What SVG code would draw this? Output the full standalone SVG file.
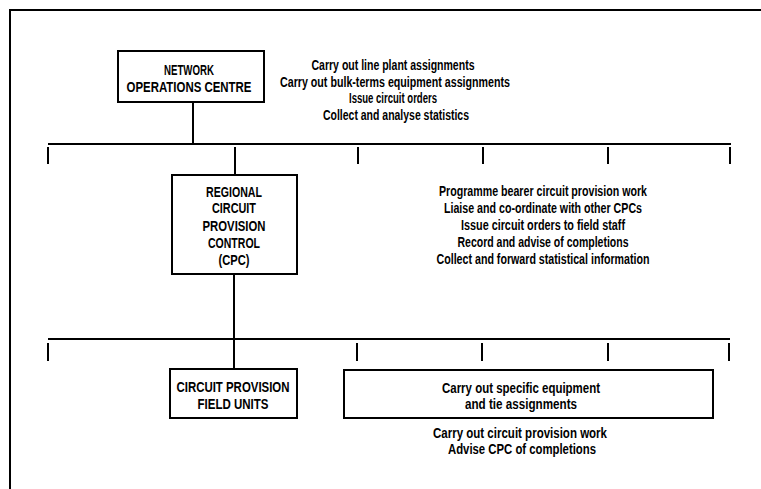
<svg xmlns="http://www.w3.org/2000/svg" width="761" height="489" viewBox="0 0 761 489">
  <style>
    .ln { stroke: #000; stroke-width: 2; fill: none; }
    .box { stroke: #000; stroke-width: 2; fill: #fff; }
    .t { font-family: "Liberation Sans", Arial, sans-serif; font-weight: bold; fill: #000; text-anchor: middle; }
    .cap { font-size: 15px; }
    .desc { font-size: 14px; }
    .low { font-size: 15px; }
  </style>
  <rect width="761" height="489" fill="#fff"/>

  <!-- page frame -->
  <g id="frame">
    <path class="ln" d="M10 10 H761 M10 9 V489"/>
  </g>

  <!-- connectors: feeder lines, bus bars and ticks -->
  <g id="connectors">
    <path class="ln" d="M193 102 V144"/>
    <path class="ln" d="M48 144 H731"/>
    <path class="ln" d="M48 147 V164 M235 147 V175 M358 147 V164 M483 147 V164 M608 147 V164 M730 147 V164"/>
    <path class="ln" d="M234 274 V369"/>
    <path class="ln" d="M48 339 H730"/>
    <path class="ln" d="M48 343 V361 M357 343 V361 M482 343 V361 M608 343 V361 M729 343 V361"/>
  </g>

  <g id="noc">
    <rect class="box" x="118" y="51" width="146" height="51"/>
    <text class="t cap" x="189" y="74.5" textLength="50" lengthAdjust="spacingAndGlyphs">NETWORK</text>
    <text class="t cap" x="189" y="91.5" textLength="125" lengthAdjust="spacingAndGlyphs">OPERATIONS CENTRE</text>
  </g>

  <g id="noc-duties">
    <text class="t desc" x="393" y="70" textLength="163" lengthAdjust="spacingAndGlyphs">Carry out line plant assignments</text>
    <text class="t desc" x="395" y="86.5" textLength="230" lengthAdjust="spacingAndGlyphs">Carry out bulk-terms equipment assignments</text>
    <text class="t desc" x="393" y="103" textLength="88" lengthAdjust="spacingAndGlyphs">Issue circuit orders</text>
    <text class="t desc" x="396" y="119.5" textLength="146" lengthAdjust="spacingAndGlyphs">Collect and analyse statistics</text>
  </g>

  <g id="cpc">
    <rect class="box" x="172" y="175" width="125" height="99"/>
    <text class="t cap" x="234" y="196.5" textLength="56" lengthAdjust="spacingAndGlyphs">REGIONAL</text>
    <text class="t cap" x="234" y="212.5" textLength="44" lengthAdjust="spacingAndGlyphs">CIRCUIT</text>
    <text class="t cap" x="234" y="230.5" textLength="63" lengthAdjust="spacingAndGlyphs">PROVISION</text>
    <text class="t cap" x="234" y="247.5" textLength="52" lengthAdjust="spacingAndGlyphs">CONTROL</text>
    <text class="t cap" x="234" y="264.5" textLength="31" lengthAdjust="spacingAndGlyphs">(CPC)</text>
  </g>

  <g id="cpc-duties">
    <text class="t desc" x="543" y="196" textLength="208" lengthAdjust="spacingAndGlyphs">Programme bearer circuit provision work</text>
    <text class="t desc" x="543" y="213" textLength="198" lengthAdjust="spacingAndGlyphs">Liaise and co-ordinate with other CPCs</text>
    <text class="t desc" x="543" y="230" textLength="164" lengthAdjust="spacingAndGlyphs">Issue circuit orders to field staff</text>
    <text class="t desc" x="543" y="247" textLength="171" lengthAdjust="spacingAndGlyphs">Record and advise of completions</text>
    <text class="t desc" x="543" y="264" textLength="213" lengthAdjust="spacingAndGlyphs">Collect and forward statistical information</text>
  </g>

  <g id="field-units">
    <rect class="box" x="170" y="369" width="127" height="49"/>
    <text class="t cap" x="233" y="391.5" textLength="113" lengthAdjust="spacingAndGlyphs">CIRCUIT PROVISION</text>
    <text class="t cap" x="233" y="408.5" textLength="71" lengthAdjust="spacingAndGlyphs">FIELD UNITS</text>
  </g>

  <g id="assignments">
    <rect class="box" x="344" y="370" width="369" height="48"/>
    <text class="t low" x="521" y="392.5" textLength="158" lengthAdjust="spacingAndGlyphs">Carry out specific equipment</text>
    <text class="t low" x="521" y="408.5" textLength="112" lengthAdjust="spacingAndGlyphs">and tie assignments</text>
  </g>

  <g id="field-duties">
    <text class="t low" x="520" y="437.5" textLength="174" lengthAdjust="spacingAndGlyphs">Carry out circuit provision work</text>
    <text class="t low" x="522" y="453.5" textLength="148" lengthAdjust="spacingAndGlyphs">Advise CPC of completions</text>
  </g>
</svg>
